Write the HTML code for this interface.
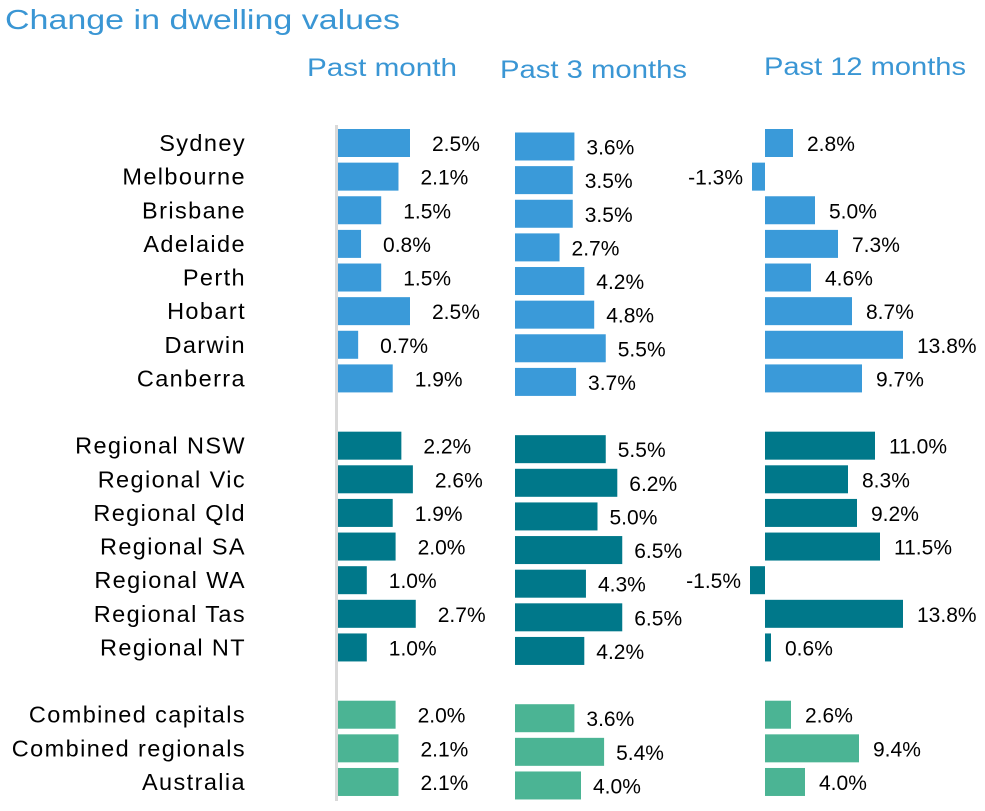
<!DOCTYPE html>
<html><head><meta charset="utf-8"><style>
body{margin:0;background:#fff;width:985px;height:806px;overflow:hidden}
svg text{font-family:"Liberation Sans",sans-serif}
</style></head><body>
<svg id="chart" width="985" height="806">
<text x="5" y="29" font-size="28" textLength="395" lengthAdjust="spacingAndGlyphs" fill="#3A96D4">Change in dwelling values</text>
<text x="307" y="76" font-size="25" textLength="150" lengthAdjust="spacingAndGlyphs" fill="#3A96D4">Past month</text>
<text x="500" y="78" font-size="25" textLength="187" lengthAdjust="spacingAndGlyphs" fill="#3A96D4">Past 3 months</text>
<text x="764" y="75" font-size="25" textLength="202" lengthAdjust="spacingAndGlyphs" fill="#3A96D4">Past 12 months</text>
<rect x="335" y="125" width="3" height="676" fill="#d9d9d9"/>
<g id="marks"></g>
</svg>
<script>
const categories=["Sydney","Melbourne","Brisbane","Adelaide","Perth","Hobart","Darwin","Canberra","Regional NSW","Regional Vic","Regional Qld","Regional SA","Regional WA","Regional Tas","Regional NT","Combined capitals","Combined regionals","Australia"];
const groups=[0,0,0,0,0,0,0,0,1,1,1,1,1,1,1,2,2,2];
const pastMonth=[2.5,2.1,1.5,0.8,1.5,2.5,0.7,1.9,2.2,2.6,1.9,2.0,1.0,2.7,1.0,2.0,2.1,2.1];
const past3Months=[3.6,3.5,3.5,2.7,4.2,4.8,5.5,3.7,5.5,6.2,5.0,6.5,4.3,6.5,4.2,3.6,5.4,4.0];
const past12Months=[2.8,-1.3,5.0,7.3,4.6,8.7,13.8,9.7,11.0,8.3,9.2,11.5,-1.5,13.8,0.6,2.6,9.4,4.0];
const colors=["#3A9AD9","#00788A","#4BB494"];
const cols=[{vals:pastMonth,zero:338,scale:28.8,dy:0,lo:22,name:"past-month"},
            {vals:past3Months,zero:515,scale:16.5,dy:3.5,lo:12,name:"past-3-months"},
            {vals:past12Months,zero:765,scale:10,dy:0,lo:14,name:"past-12-months"}];
const NS="http://www.w3.org/2000/svg";
const g=document.getElementById("marks");
function rowY(i){const slot=i+groups[i];return 143+slot*33.63;}
categories.forEach((c,i)=>{
  const y=rowY(i);
  const t=document.createElementNS(NS,"text");
  t.setAttribute("x",246);t.setAttribute("y",y+8);t.setAttribute("font-size","23.5");
  t.setAttribute("letter-spacing","1.4");
  t.setAttribute("text-anchor","end");t.setAttribute("fill","#000");t.textContent=c;
  
  
  g.appendChild(t);
  cols.forEach(col=>{
    const v=col.vals[i];const w=Math.abs(v)*col.scale;
    const x=v>=0?col.zero:col.zero-w;const cy=y+col.dy;
    const r=document.createElementNS(NS,"rect");
    r.setAttribute("x",x);r.setAttribute("y",cy-14);r.setAttribute("width",w);r.setAttribute("height",28);
    r.setAttribute("fill",colors[groups[i]]);
    
    
    g.appendChild(r);
    const l=document.createElementNS(NS,"text");
    l.setAttribute("font-size","21");l.setAttribute("fill","#000");
    if(v>=0){l.setAttribute("x",col.zero+w+col.lo);}
    else{l.setAttribute("x",x-9);l.setAttribute("text-anchor","end");}
    l.setAttribute("y",cy+8);l.textContent=v.toFixed(1)+"%";
    
    
    g.appendChild(l);
  });
});
</script>
</body></html>
